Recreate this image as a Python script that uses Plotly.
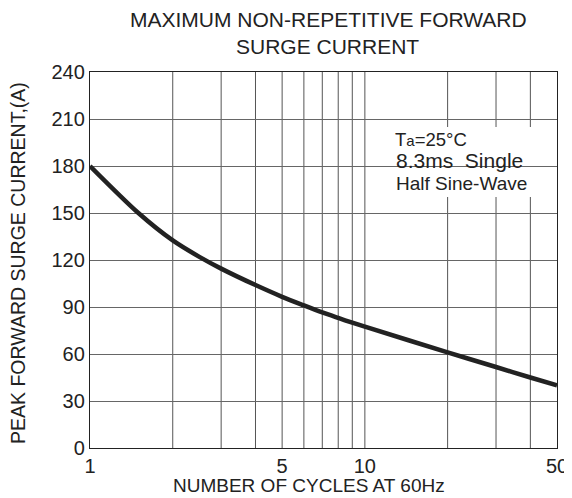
import plotly.graph_objects as go

cycles = [1, 1.5, 2, 2.5, 3, 4, 5, 6, 7, 8, 9, 10, 20, 30, 40, 50]
current = [180, 150, 132.5, 122, 114.5, 104, 96.5, 91, 86.5, 83, 80, 77.5, 61, 51.7, 45, 40]

x_grid = [2, 3, 4, 5, 6, 7, 8, 9, 10, 20, 30, 40]
x_tickvals = [1, 5, 10, 50]
x_ticktext = ["1", "5", "10", "50"]
y_tickvals = [0, 30, 60, 90, 120, 150, 180, 210, 240]

title_lines = ["MAXIMUM NON-REPETITIVE FORWARD", "SURGE CURRENT"]
x_title = "NUMBER OF CYCLES AT 60Hz"
y_title = "PEAK FORWARD SURGE CURRENT,(A)"
note_lines = ["T<span style='font-size:15px'>a</span>=25°C", "8.3ms  Single", "Half Sine-Wave"]

FF = "Liberation Sans, Arial, sans-serif"
INK = "#222222"

# the page body has an 8px margin, so the figure is drawn 8px smaller
OFF = 8
W, H = 572 - OFF, 498 - OFF
# plot area in reference pixels: x 90..557, y 72..448
L, T = 90 - OFF, 72 - OFF
R = W - (557 - OFF)
B = H - (448 - OFF)
PW, PH = W - L - R, H - T - B


def px(x):
    return (x - OFF - L) / PW


def py(y):
    return (H - B - (y - OFF)) / PH


fig = go.Figure()
fig.add_trace(go.Scatter(x=cycles, y=current, mode="lines",
                         line=dict(color=INK, width=4.5, shape="spline", smoothing=0.8),
                         showlegend=False, hoverinfo="skip"))

for xv in x_grid:
    fig.add_shape(type="line", xref="x", yref="paper", x0=xv, x1=xv, y0=0, y1=1,
                  line=dict(color="#555555", width=1), layer="between")

# white box behind the note text
fig.add_shape(type="rect", xref="paper", yref="paper",
              x0=px(386), x1=px(532), y0=py(197), y1=py(127),
              line=dict(width=0), fillcolor="white", layer="between")

fig.update_layout(
    width=W, height=H,
    margin=dict(l=L, r=R, t=T, b=B, autoexpand=False),
    paper_bgcolor="white", plot_bgcolor="white",
    font=dict(family=FF, color=INK),
    xaxis=dict(type="log", range=[0, 1.69897], tickvals=x_tickvals, ticktext=x_ticktext,
               showgrid=False, zeroline=False, showline=True, mirror=True,
               linecolor=INK, linewidth=1.3, ticks="", automargin=False,
               tickfont=dict(size=20, color=INK)),
    yaxis=dict(range=[0, 240], tickvals=y_tickvals, automargin=False,
               showgrid=True, gridcolor="#666666", gridwidth=1, zeroline=False,
               showline=True, mirror=True, linecolor=INK, linewidth=1.3, ticks="",
               tickfont=dict(size=20, color=INK)),
)

# chart title (two centred lines)
fig.add_annotation(xref="paper", yref="paper", x=px(328), y=py(20), xanchor="center", yanchor="middle",
                   text=title_lines[0], showarrow=False, font=dict(size=21, color=INK, family=FF))
fig.add_annotation(xref="paper", yref="paper", x=px(327), y=py(46.5), xanchor="center", yanchor="middle",
                   text=title_lines[1], showarrow=False, font=dict(size=21, color=INK, family=FF))

# axis titles
fig.add_annotation(xref="paper", yref="paper", x=px(309), y=py(486), xanchor="center", yanchor="middle",
                   text=x_title, showarrow=False, font=dict(size=19, color=INK, family=FF))
fig.add_annotation(xref="paper", yref="paper", x=px(18), y=py(263), xanchor="center", yanchor="middle",
                   text=y_title, textangle=-90, showarrow=False, font=dict(size=19.5, color=INK, family=FF))

# note text (left aligned block)
fig.add_annotation(xref="paper", yref="paper", x=px(393), y=py(139.5), xanchor="left", yanchor="middle",
                   text=note_lines[0], showarrow=False, font=dict(size=18.5, color=INK, family=FF))
fig.add_annotation(xref="paper", yref="paper", x=px(394), y=py(160), xanchor="left", yanchor="middle",
                   text=note_lines[1], showarrow=False, font=dict(size=21, color=INK, family=FF))
fig.add_annotation(xref="paper", yref="paper", x=px(394), y=py(183.5), xanchor="left", yanchor="middle",
                   text=note_lines[2], showarrow=False, font=dict(size=19, color=INK, family=FF))

fig.write_html("out.html")
